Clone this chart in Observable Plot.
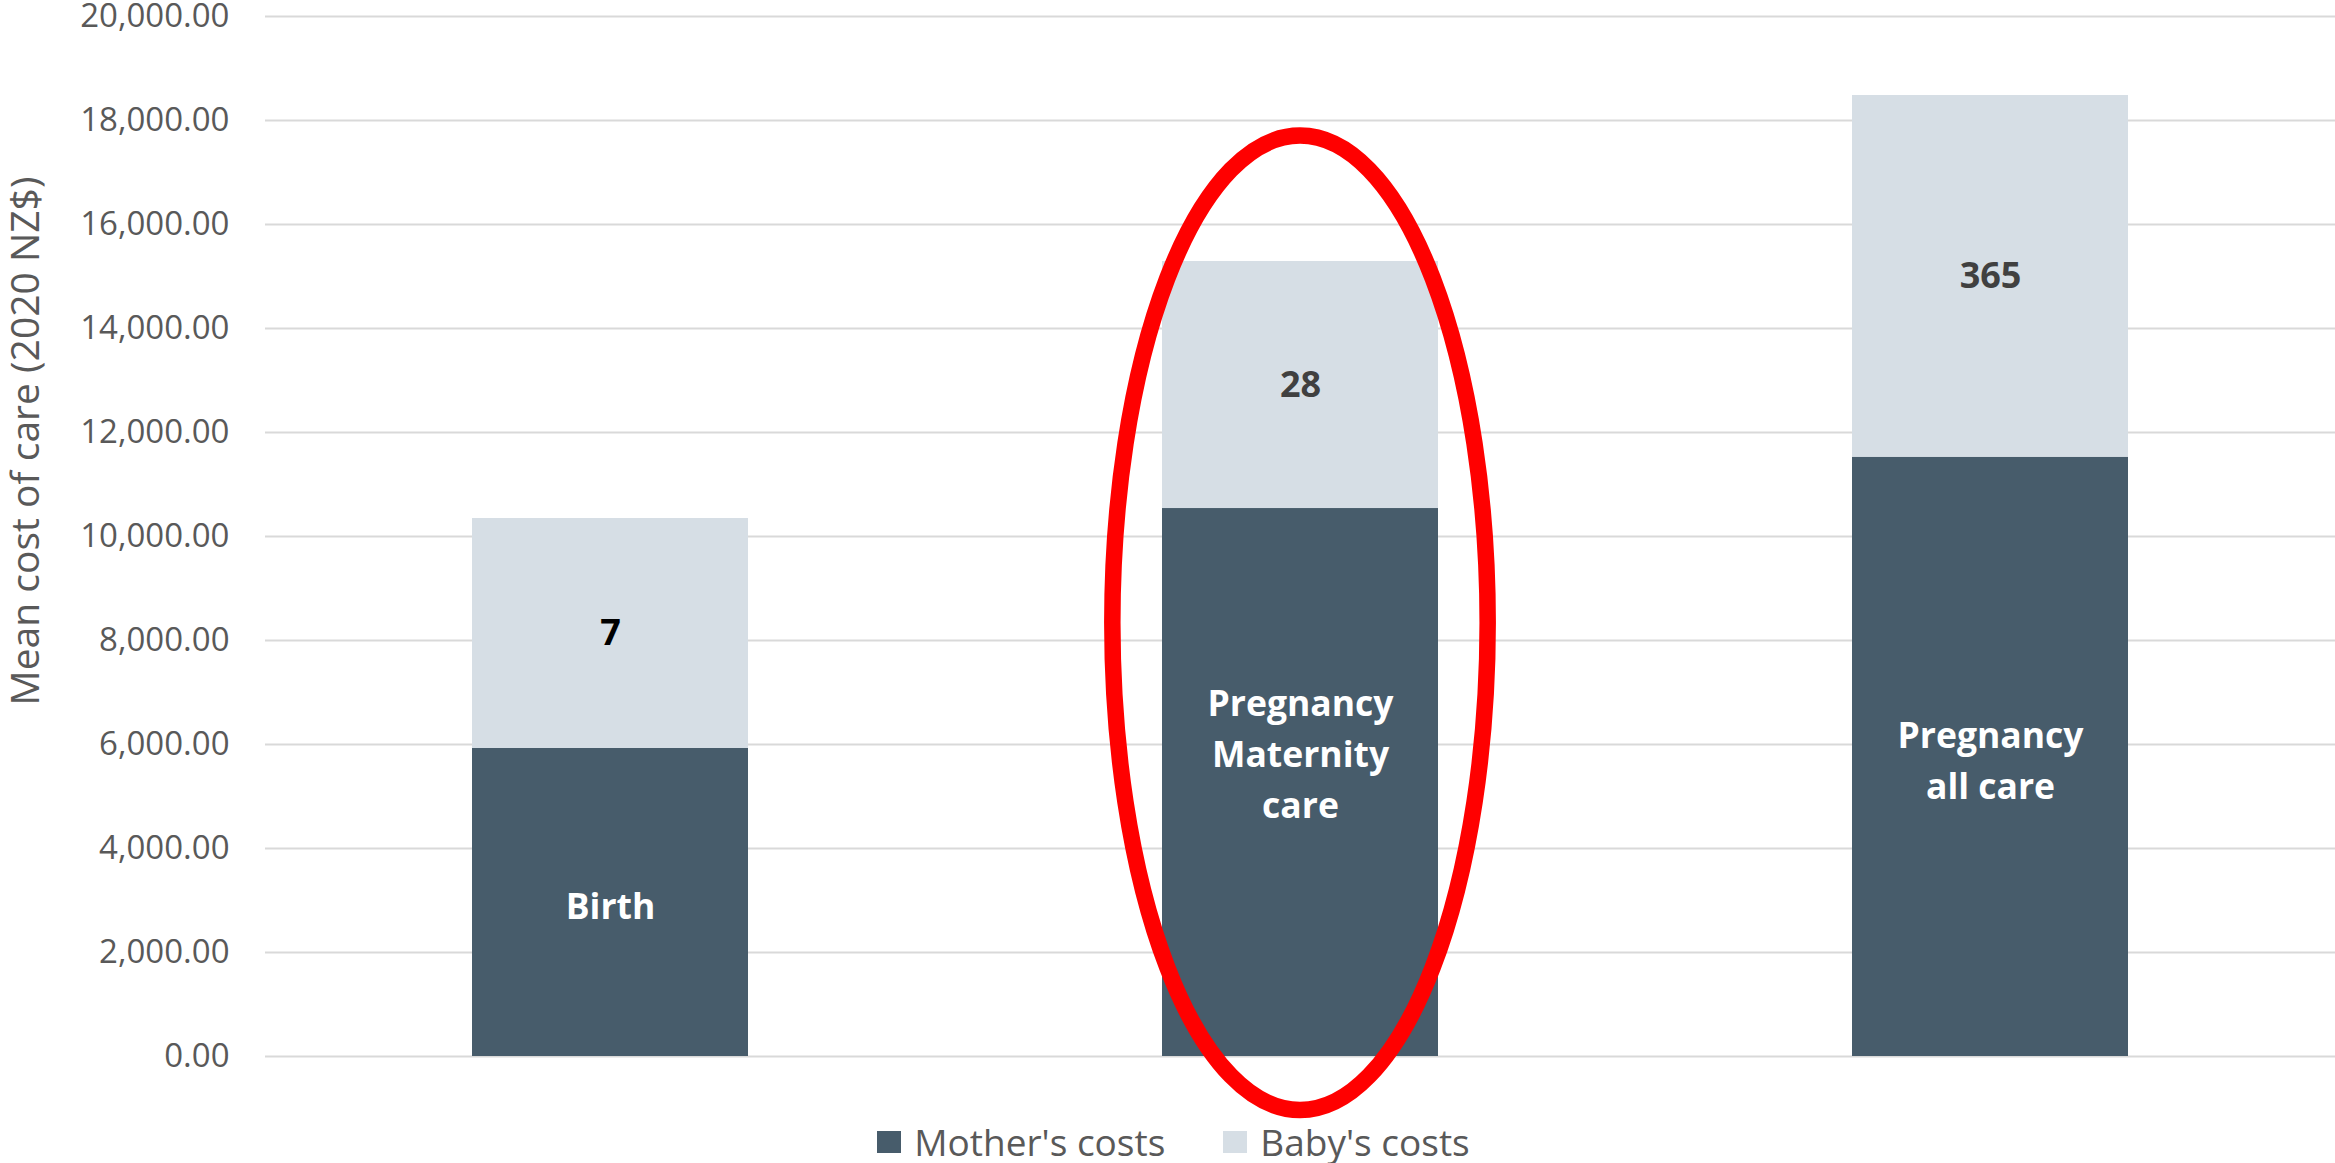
<!DOCTYPE html>
<html>
<head>
<meta charset="utf-8">
<script src="https://cdn.jsdelivr.net/npm/d3@7"></script>
<script src="https://cdn.jsdelivr.net/npm/@observablehq/plot@0.6"></script>
<style>
  html, body { margin: 0; padding: 0; background: #fff; }
  body { width: 2335px; height: 1163px; overflow: hidden; font-family: "Open Sans", sans-serif; }
  #legend { display: flex; justify-content: center; align-items: center; height: 43px; padding-left: 12px; color: #595959; font-size: 37px; }
  .item { display: flex; align-items: center; }
  .item + .item { margin-left: 58px; }
  .swatch { width: 24px; height: 22px; margin-right: 13px; }
</style>
</head>
<body>
<div id="chart"></div>
<div id="legend"></div>
<script>
// ---- data ----
const categories = ["Birth", "Pregnancy Maternity care", "Pregnancy all care"];
const barLabels = ["Birth", "Pregnancy\nMaternity\ncare", "Pregnancy\nall care"];
const seriesNames = ["Mother's costs", "Baby's costs"];
const mothersCosts = [5923, 10538, 11525];
const babysCosts = [4423, 4750, 6956];
const dayLabels = ["7", "28", "365"];
const yTicks = [0, 2000, 4000, 6000, 8000, 10000, 12000, 14000, 16000, 18000, 20000];
const yTitle = "Mean cost of care (2020 NZ$)";
// highlighted (circled) bar, extent in data units
const highlightCategory = "Pregnancy Maternity care";
const highlightTop = 17700;
const highlightBottom = -1040;

// ---- styles ----
const seriesColors = ["#475C6B", "#D6DEE5"];

// ---- tables ----
const rows = [];
categories.forEach((c, i) => rows.push({category: c, series: seriesNames[0], value: mothersCosts[i]}));
categories.forEach((c, i) => rows.push({category: c, series: seriesNames[1], value: babysCosts[i]}));
const motherLabelRows = categories.map((c, i) => ({category: c, mid: mothersCosts[i] / 2, text: barLabels[i]}));
const babyLabelRows = categories.map((c, i) => ({category: c, mid: mothersCosts[i] + babysCosts[i] / 2, text: dayLabels[i]}));

function highlightEllipse(index, scales) {
  const x = scales.x, y = scales.y;
  const bw = typeof x.bandwidth === "function" ? x.bandwidth() : x.bandwidth;
  const cx = x(highlightCategory) + bw / 2;
  const yTop = y(highlightTop), yBot = y(highlightBottom);
  return d3.create("svg:ellipse")
    .attr("cx", cx)
    .attr("cy", (yTop + yBot) / 2)
    .attr("rx", bw * 0.68)
    .attr("ry", Math.abs(yBot - yTop) / 2)
    .attr("fill", "none")
    .attr("stroke", "#FF0000")
    .attr("stroke-width", 16.5)
    .node();
}

function yAxisTitle(index, scales, values, dimensions) {
  const {marginLeft, marginTop, marginBottom, height} = dimensions;
  const tx = marginLeft - 242;
  const ty = (marginTop + height - marginBottom) / 2 - 95;
  return d3.create("svg:text")
    .attr("transform", `translate(${tx},${ty}) rotate(-90)`)
    .attr("text-anchor", "middle")
    .attr("dominant-baseline", "central")
    .attr("fill", "#595959")
    .attr("font-size", 39)
    .text(yTitle)
    .node();
}

const chart = Plot.plot({
  width: 2335,
  height: 1120,
  marginLeft: 265,
  marginRight: 0,
  marginTop: 16,
  marginBottom: 64,
  style: {fontFamily: '"Open Sans", sans-serif', fontSize: "33px", color: "#595959", background: "#fff", overflow: "visible"},
  x: {domain: categories, paddingInner: 0.6, paddingOuter: 0.3, axis: null},
  y: {domain: [0, 20000], axis: null},
  color: {domain: seriesNames, range: seriesColors},
  marks: [
    Plot.gridY(yTicks, {stroke: "#D9D9D9", strokeOpacity: 1, strokeWidth: 2}),
    Plot.barY(rows, {x: "category", y: "value", fill: "series"}),
    Plot.axisY(yTicks, {tickSize: 0, tickPadding: 36, tickFormat: d3.format(",.2f"), label: null, fontSize: 33}),
    Plot.text(motherLabelRows.filter(d => d.category !== highlightCategory), {x: "category", y: "mid", text: "text", fill: "white", fontWeight: "bold", fontSize: 35.5, lineHeight: 1.45}),
    Plot.text(motherLabelRows.filter(d => d.category === highlightCategory), {x: "category", y: "mid", text: "text", fill: "white", fontWeight: "bold", fontSize: 35.5, lineHeight: 1.45, dy: -32}),
    Plot.text(babyLabelRows.filter(d => d.text === dayLabels[0]), {x: "category", y: "mid", text: "text", fill: "#000000", fontWeight: "bold", fontSize: 36}),
    Plot.text(babyLabelRows.filter(d => d.text !== dayLabels[0]), {x: "category", y: "mid", text: "text", fill: "#404040", fontWeight: "bold", fontSize: 36}),
    yAxisTitle,
    highlightEllipse
  ]
});
document.getElementById("chart").appendChild(chart);

const legend = d3.select("#legend");
seriesNames.forEach((name, i) => {
  const item = legend.append("div").attr("class", "item");
  item.append("div").attr("class", "swatch").style("background", seriesColors[i]);
  item.append("span").text(name);
});
</script>
</body>
</html>
